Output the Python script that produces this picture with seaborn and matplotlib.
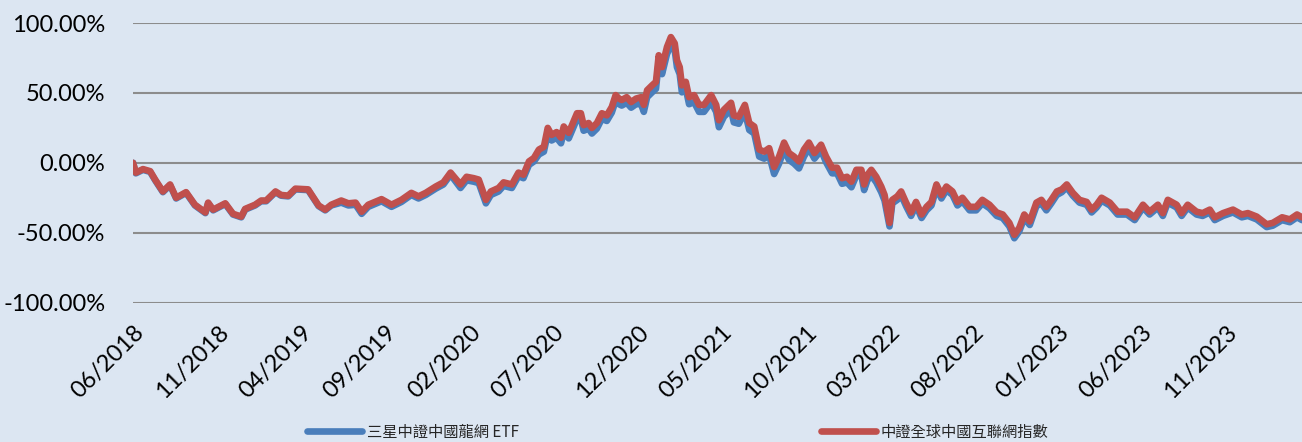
import pandas as pd
import matplotlib
matplotlib.use("Agg")
import matplotlib.pyplot as plt
import matplotlib.dates as mdates
import matplotlib.ticker as mticker
import seaborn as sns

# cumulative return (%)
dates = [
    "2018-06-01", "2018-06-06", "2018-06-19", "2018-07-02", "2018-07-11", "2018-07-25",
    "2018-08-07", "2018-08-18", "2018-09-05", "2018-09-21", "2018-10-10", "2018-10-15",
    "2018-10-24", "2018-11-15", "2018-11-29", "2018-12-14", "2018-12-21", "2019-01-08",
    "2019-01-19", "2019-01-28", "2019-02-14", "2019-02-24", "2019-03-09", "2019-03-22",
    "2019-04-14", "2019-05-03", "2019-05-15", "2019-05-26", "2019-06-13", "2019-06-26",
    "2019-07-09", "2019-07-20", "2019-08-01", "2019-08-25", "2019-09-12", "2019-09-30",
    "2019-10-18", "2019-10-31", "2019-11-13", "2019-12-01", "2019-12-15", "2019-12-28",
    "2020-01-15", "2020-01-26", "2020-02-08", "2020-02-17", "2020-03-01", "2020-03-10",
    "2020-03-24", "2020-04-02", "2020-04-17", "2020-04-29", "2020-05-08", "2020-05-18",
    "2020-05-27", "2020-06-05", "2020-06-14", "2020-06-21", "2020-06-28", "2020-07-07",
    "2020-07-15", "2020-07-20", "2020-07-29", "2020-08-13", "2020-08-20", "2020-08-25",
    "2020-09-03", "2020-09-09", "2020-09-18", "2020-09-27", "2020-10-06", "2020-10-15",
    "2020-10-22", "2020-10-28", "2020-11-02", "2020-11-11", "2020-11-19", "2020-11-28",
    "2020-12-07", "2020-12-12", "2020-12-18", "2020-12-27", "2021-01-03", "2021-01-08",
    "2021-01-14", "2021-01-23", "2021-01-30", "2021-02-06", "2021-02-10", "2021-02-15",
    "2021-02-19", "2021-02-26", "2021-03-04", "2021-03-13", "2021-03-22", "2021-03-31",
    "2021-04-13", "2021-04-22", "2021-04-27", "2021-05-06", "2021-05-19", "2021-05-24",
    "2021-06-02", "2021-06-13", "2021-06-21", "2021-06-30", "2021-07-09", "2021-07-18",
    "2021-07-27", "2021-08-05", "2021-08-14", "2021-08-23", "2021-09-01", "2021-09-10",
    "2021-09-19", "2021-09-28", "2021-10-07", "2021-10-17", "2021-10-29", "2021-11-07",
    "2021-11-18", "2021-11-27", "2021-12-06", "2021-12-15", "2021-12-23", "2022-01-01",
    "2022-01-10", "2022-01-15", "2022-01-21", "2022-01-28", "2022-02-06", "2022-02-15",
    "2022-02-21", "2022-03-02", "2022-03-07", "2022-03-16", "2022-03-23", "2022-04-01",
    "2022-04-10", "2022-04-19", "2022-04-29", "2022-05-08", "2022-05-17", "2022-05-26",
    "2022-06-04", "2022-06-13", "2022-06-24", "2022-07-03", "2022-07-12", "2022-07-25",
    "2022-08-06", "2022-08-17", "2022-08-30", "2022-09-12", "2022-09-23", "2022-10-05",
    "2022-10-14", "2022-10-23", "2022-11-01", "2022-11-11", "2022-11-23", "2022-12-02",
    "2022-12-11", "2022-12-20", "2022-12-30", "2023-01-08", "2023-01-17", "2023-01-28",
    "2023-02-09", "2023-02-22", "2023-03-03", "2023-03-12", "2023-03-21", "2023-04-05",
    "2023-04-19", "2023-05-06", "2023-05-20", "2023-06-04", "2023-06-16", "2023-07-01",
    "2023-07-10", "2023-07-19", "2023-08-04", "2023-08-13", "2023-08-24", "2023-09-09",
    "2023-09-20", "2023-10-03", "2023-10-12", "2023-10-27", "2023-11-14", "2023-11-30",
    "2023-12-11", "2023-12-27", "2024-01-14", "2024-01-25", "2024-02-11", "2024-02-25",
    "2024-03-09", "2024-03-18",
]

index_ret = [
    0, -7, -4.5, -6, -12, -20.5,
    -15.5, -25, -21, -30, -35.5, -28.5,
    -33.5, -29, -36.5, -38.5, -33, -30,
    -27, -27, -20.5, -23, -23.5, -18.5,
    -19, -30.5, -33.5, -30, -27, -29,
    -28.5, -35, -30, -26, -30, -26.5,
    -21.5, -24, -21.5, -17, -14, -7,
    -15.5, -10, -11, -12, -26.5, -20.5,
    -18, -14, -15.5, -7, -8.5, 1,
    3.5, 9.5, 11.5, 25, 20, 22,
    18, 26, 21.5, 35.5, 35.5, 27,
    28.5, 25, 28.5, 35.5, 34, 40,
    48.5, 46, 45, 47, 43.5, 46,
    47, 41.5, 52, 55.5, 58, 77,
    68.5, 83, 90, 85.5, 73.5, 68.5,
    55.5, 58, 47, 48.5, 41.5, 41.5,
    48.5, 41.5, 30.5, 38, 43, 34,
    33, 41.5, 28.5, 26, 9.5, 8,
    10.5, -3, 4.5, 14.5, 7, 4.5,
    1, 9.5, 14.5, 7, 13, 4.5,
    -3.5, -3.5, -11, -10, -13.5, -5,
    -5, -15.5, -8.5, -5, -10, -17,
    -23, -43, -26.5, -24, -20.5, -28.5,
    -35.5, -28, -37, -31.5, -28, -15.5,
    -23, -17, -20.5, -28, -25, -31.5,
    -31.5, -26.5, -30, -35.5, -37, -43,
    -51.5, -46.5, -37, -42, -28.5, -26.5,
    -31.5, -26.5, -20.5, -19, -15.5, -21.5,
    -26.5, -28, -33.5, -30, -25, -28.5,
    -35, -35, -39, -30, -35, -30,
    -36, -26.5, -30, -36, -30, -35,
    -36, -33.5, -39, -36, -33.5, -37,
    -36, -38.5, -44, -43, -39, -40.5,
    -37, -39,
]

etf_ret = [
    0, -7.5, -5, -6.5, -12.5, -21,
    -16, -25.5, -21.5, -30.5, -36, -29,
    -34, -29.5, -37, -39, -33.5, -30.5,
    -27.5, -27.5, -21, -23.5, -24, -19,
    -19.5, -31, -34, -30.5, -28.5, -30.5,
    -30, -36.5, -31.5, -27.5, -31.5, -28,
    -23, -25.5, -23, -18.5, -15.5, -8.5,
    -18, -12.5, -13.5, -14.5, -29, -23,
    -20.5, -16.5, -18, -9.5, -11, -1.5,
    1, 6, 8, 21, 16, 18,
    14, 22, 17.5, 31.5, 31.5, 23,
    24.5, 21, 24.5, 31.5, 30, 36,
    44.5, 42, 41, 43, 39.5, 42,
    42, 36.5, 47, 50.5, 53, 72,
    63.5, 78, 84, 80.5, 68.5, 63.5,
    50.5, 53, 42, 43.5, 36.5, 36.5,
    43.5, 36.5, 25.5, 33, 38, 29,
    28, 36.5, 23.5, 21, 4.5, 3,
    5.5, -8, -0.5, 9.5, 2, -0.5,
    -4, 4.5, 10.5, 3, 9, 0.5,
    -7.5, -7.5, -15, -14, -17.5, -9,
    -9, -19.5, -12.5, -9, -14, -21,
    -27, -45.5, -29, -26.5, -23, -31,
    -38, -30.5, -39.5, -34, -30.5, -18,
    -25.5, -19.5, -23, -30.5, -27.5, -34,
    -34, -29, -32.5, -38, -39.5, -45.5,
    -54, -49, -39.5, -44.5, -31, -29,
    -34, -29, -23, -21, -17.5, -23.5,
    -28.5, -30, -35.5, -32, -27, -30.5,
    -37, -37, -41, -32, -37, -32,
    -38, -28.5, -32, -38, -32, -37,
    -38, -35.5, -41, -38, -35.5, -39,
    -38, -40.5, -46, -45, -41, -42.5,
    -39, -41,
]

etf_name = "三星中證中國龍網 ETF"
index_name = "中證全球中國互聯網指數"
tick_months = pd.date_range("2018-06-01", "2023-11-01", freq="5MS")

bg = "#dce6f2"
sns.set_theme(style="white", rc={"axes.facecolor": bg, "figure.facecolor": bg})
plt.rcParams["font.family"] = ["Lato", "Noto Sans CJK TC", "DejaVu Sans"]

df = pd.DataFrame({"date": pd.to_datetime(dates), "etf": etf_ret, "index": index_ret})

fig = plt.figure(figsize=(13.02, 4.42), dpi=100)
ax = fig.add_axes([0.1022, 0.3156, 0.8978, 0.632])

sns.lineplot(data=df, x="date", y="etf", ax=ax, color="#4a7ebb", linewidth=4.8,
             label=etf_name)
sns.lineplot(data=df, x="date", y="index", ax=ax, color="#c0504d", linewidth=4.8,
             label=index_name)

ax.set_ylim(-100, 100)
ax.set_xlim(df["date"].iloc[0], df["date"].iloc[-1])
ax.yaxis.set_major_locator(mticker.MultipleLocator(50))
ax.yaxis.set_major_formatter(mticker.FuncFormatter(lambda v, p: f"{v:.2f}%"))
ax.set_xticks(tick_months)
ax.xaxis.set_major_formatter(mdates.DateFormatter("%m/%Y"))
ax.grid(axis="y", color="#8c8c8c", linewidth=1.5)
ax.set_axisbelow(True)
for s in ax.spines.values():
    s.set_visible(False)
ax.tick_params(axis="both", length=0, labelsize=17, colors="black")
ax.tick_params(axis="y", pad=20)
ax.tick_params(axis="x", pad=14)
plt.setp(ax.get_xticklabels(), rotation=45, ha="right", rotation_mode="anchor")
ax.set_xlabel("")
ax.set_ylabel("")

ax.get_legend().remove()
handles, labels = ax.get_legend_handles_labels()
fig.legend(handles, labels, loc="center", bbox_to_anchor=(0.5205, 0.022), ncol=2,
           frameon=False, columnspacing=19.8, handlelength=3.6, handletextpad=0.3,
           prop={"family": ["Noto Sans CJK TC", "DejaVu Sans"], "size": 11})

fig.savefig("out.png", dpi=100, facecolor=bg)
